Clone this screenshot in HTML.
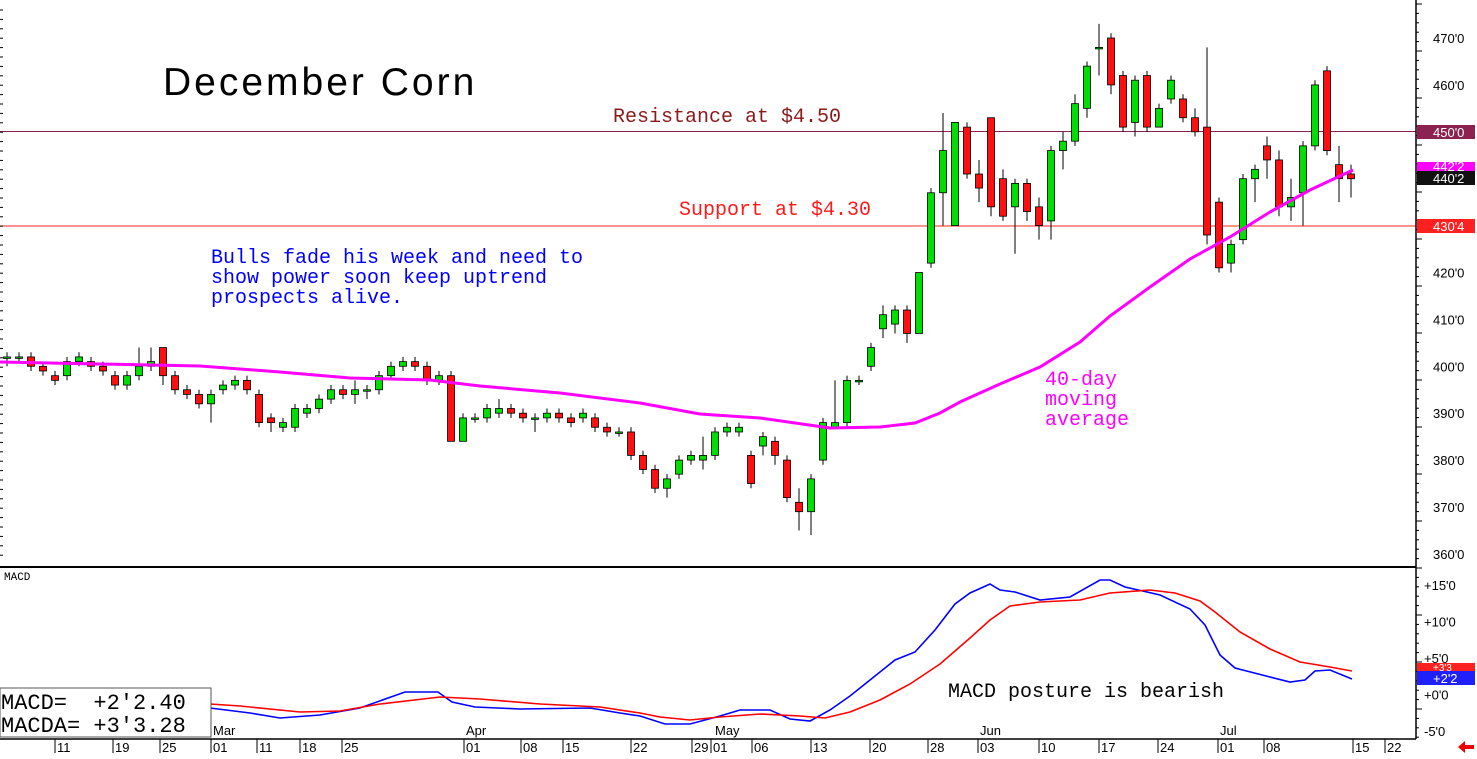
<!DOCTYPE html>
<html><head><meta charset="utf-8">
<style>
html,body{margin:0;padding:0;background:#fff;width:1477px;height:759px;overflow:hidden}
svg{display:block;font-family:"Liberation Mono",monospace}
</style></head><body>
<svg id="s" width="1477" height="759" viewBox="0 0 1477 759" xmlns="http://www.w3.org/2000/svg">
<rect width="1477" height="759" fill="#fff"/>
<line x1="0" y1="131.5" x2="1416" y2="131.5" stroke="#8b2252" stroke-width="1"/>
<line x1="0" y1="226" x2="1416" y2="226" stroke="#ff2020" stroke-width="1"/>
<g id="candles"></g>
<polyline id="ma" fill="none" stroke="#ff00ff" stroke-width="3"/>
<polyline id="mb" fill="none" stroke="#0000ff" stroke-width="1.6"/>
<polyline id="mr" fill="none" stroke="#ff0000" stroke-width="1.6"/>
<line x1="0" y1="567" x2="1416" y2="567" stroke="#000" stroke-width="2"/>
<line x1="1416" y1="0" x2="1416" y2="739" stroke="#000" stroke-width="1.5"/>
<line x1="0" y1="739" x2="1416" y2="739" stroke="#000" stroke-width="1.5"/>
<g id="ticks"></g>
<text x="163" y="95" font-family="Liberation Sans,sans-serif" font-size="39" fill="#000" letter-spacing="3">December Corn</text>
<text x="613" y="122" font-size="20" fill="#8b1a1a">Resistance at $4.50</text>
<text x="679" y="215" font-size="20" fill="#ff1a1a">Support at $4.30</text>
<text font-size="20" fill="#0000ff"><tspan x="211" y="263">Bulls fade his week and need to</tspan><tspan x="211" y="283">show power soon keep uptrend</tspan><tspan x="211" y="303">prospects alive.</tspan></text>
<text font-size="20" fill="#ff00ff"><tspan x="1045" y="385">40-day</tspan><tspan x="1045" y="405">moving</tspan><tspan x="1045" y="425">average</tspan></text>
<text x="948" y="697" font-size="20" fill="#000">MACD posture is bearish</text>
<text x="4" y="580" font-size="11" fill="#000">MACD</text>
<rect x="0" y="688" width="211" height="49" fill="#fff" stroke="#555" stroke-width="1"/>
<text x="1" y="709" font-size="22" fill="#000" xml:space="preserve" style="white-space:pre">MACD=  +2'2.40</text>
<text x="1" y="732" font-size="22" fill="#000" xml:space="preserve" style="white-space:pre">MACDA= +3'3.28</text>
<rect x="1417" y="125" width="58" height="14" fill="#8b2252"/>
<rect x="1417" y="162" width="58" height="10" fill="#ff00ff"/>
<rect x="1417" y="171" width="58" height="14" fill="#111"/>
<rect x="1417" y="219" width="58" height="14" fill="#ff2020"/>
<rect x="1417" y="663" width="58" height="9" fill="#ff2020"/>
<rect x="1417" y="671" width="58" height="14" fill="#2020ff"/>
<g id="labels" font-size="13" font-family="Liberation Sans,sans-serif"></g>
<polygon points="1458,747 1465,741 1465,745 1474,745 1474,749 1465,749 1465,753" fill="#e00"/>
</svg>
<script>
var NS="http://www.w3.org/2000/svg";
function el(p,t,a,txt){var e=document.createElementNS(NS,t);for(var k in a)e.setAttribute(k,a[k]);if(txt!=null)e.textContent=txt;document.getElementById(p).appendChild(e);return e;}
function py(p){return 38+(470-p)*4.69;}
function my(m){return 585+(15-m)*7.3;}
[470,460,420,410,400,390,380,370,360].forEach(function(p){el("labels","text",{x:1433,y:py(p)+5,fill:"#000"},p+"'0");});
el("labels","text",{x:1433,y:137,fill:"#fff"},"450'0");
el("labels","text",{x:1433,y:171,fill:"#fff"},"442'2");
el("labels","text",{x:1433,y:183,fill:"#fff"},"440'2");
el("labels","text",{x:1433,y:231,fill:"#fff"},"430'4");
[["+15'0",15],["+10'0",10],["+5'0",5],["+0'0",0],["-5'0",-5]].forEach(function(a){el("labels","text",{x:1424,y:my(a[1])+5,fill:"#000"},a[0]);});
el("labels","text",{x:1433,y:671,fill:"#fff","font-size":"10"},"+3'3");
el("labels","text",{x:1433,y:683,fill:"#fff"},"+2'2");
for(var y=4;y<739;y+=9.4){var l=((Math.round((y-4)/9.4))%5==0)?6:3;el("ticks","line",{x1:1416,y1:y,x2:1416+l,y2:y,stroke:"#000","stroke-width":1});}
for(var y=10;y<560;y+=9.4){el("ticks","line",{x1:0,y1:y,x2:3,y2:y,stroke:"#000","stroke-width":1});}
var d=[["11",57],["19",115],["25",162],["01",213],["11",259],["18",302],["25",344],["01",466],["08",523],["15",565],["22",633],["29",694],["01",713],["06",754],["13",813],["20",872],["28",930],["03",980],["10",1041],["17",1101],["24",1160],["01",1220],["08",1266],["15",1355],["22",1387]];
d.forEach(function(a){el("ticks","line",{x1:a[1]-2,y1:739,x2:a[1]-2,y2:753,stroke:"#000","stroke-width":1});el("labels","text",{x:a[1],y:752,fill:"#000"},a[0]);});
[["Mar",213],["Apr",466],["May",715],["Jun",980],["Jul",1220]].forEach(function(a){el("labels","text",{x:a[1],y:735,fill:"#000"},a[0]);});
var C=[[7,402,402,403,400],[19,402,402,403,401],[31,402,400,403,399],[43,400,399,401,398],[55,398,397,399,396],[67,398,401,402,397],[79,401,402,403,400],[91,401,400,402,399],[103,400,399,401,398],[115,398,396,399,395],[127,396,398,399,395],[139,398,400,404,397],[151,400,401,404,399],[163,404,398,404,396],[175,398,395,399,394],[187,395,394,396,393],[199,394,392,395,391],[211,392,394,395,388],[223,395,396,397,394],[235,396,397,398,395],[247,397,395,398,394],[259,394,388,395,387],[271,389,388,390,386],[283,387,388,389,386],[295,387,391,392,386],[307,390,391,392,389],[319,391,393,394,390],[331,393,395,396,392],[343,395,394,396,393],[355,394,395,397,392],[367,395,395,396,393],[379,395,398,399,394],[391,398,400,401,397],[403,400,401,402,399],[415,401,400,402,399],[427,400,397,401,396],[439,397,398,399,396],[451,398,384,399,384],[463,384,389,390,384],[475,389,389,390,388],[487,389,391,392,388],[499,390,391,393,389],[511,391,390,392,389],[523,390,389,391,388],[535,389,389,390,386],[547,389,390,391,388],[559,390,389,391,388],[571,389,388,390,387],[583,389,390,391,388],[595,389,387,390,386],[607,387,386,388,385],[619,386,386,387,385],[631,386,381,387,380],[643,381,378,382,377],[655,378,374,379,373],[667,374,376,377,372],[679,377,380,381,376],[691,380,381,382,379],[703,380,381,385,378],[715,381,386,387,380],[727,386,387,388,385],[739,386,387,388,385],[751,381,375,382,374],[763,383,385,386,381],[775,384,381,385,379],[787,380,372,381,371],[799,371,369,374,365],[811,369,376,377,364],[823,380,388,389,379],[835,387,388,397,387],[847,388,397,398,387],[859,397,397,398,396],[871,400,404,405,399],[883,408,411,413,406],[895,409,412,413,407],[907,412,407,413,405],[919,407,420,420,407],[931,422,437,438,421],[943,437,446,454,430],[955,430,452,452,430],[967,451,441,452,440],[979,441,438,444,435],[991,453,434,453,432],[1003,440,432,442,431],[1015,434,439,440,424],[1027,439,433,440,431],[1039,434,430,436,427],[1051,431,446,447,427],[1063,446,448,450,442],[1075,448,456,458,447],[1087,455,464,465,453],[1099,468,468,473,462],[1111,470,460,471,458],[1123,462,451,463,450],[1135,452,461,462,449],[1147,462,451,463,450],[1159,451,455,456,452],[1171,457,461,462,456],[1183,457,453,458,452],[1195,453,450,455,449],[1207,451,428,468,426],[1219,435,421,436,420],[1231,422,426,427,420],[1243,427,440,441,426],[1255,440,442,443,435],[1267,447,444,449,440],[1279,444,434,446,432],[1291,434,436,440,431],[1303,437,447,448,430],[1315,447,460,461,446],[1327,463,446,464,445],[1339,443,440,447,435],[1351,441,440,443,436]];
C.forEach(function(c){var x=c[0],o=c[1],cl=c[2],h=c[3],l=c[4];
  el("candles","line",{x1:x,y1:py(h),x2:x,y2:py(l),stroke:"#000","stroke-width":1});
  var t=py(Math.max(o,cl)),b=py(Math.min(o,cl));if(b-t<1.5){b=t+1.5;}
  el("candles","rect",{x:x-3.5,y:t,width:7,height:b-t,fill:cl>=o?"#00dd00":"#ff1010",stroke:"#000","stroke-width":0.8});
});
function pts(a){return a.map(function(p){return p[0]+","+p[1];}).join(" ");}
document.getElementById("ma").setAttribute("points",pts([[0,362],[100,364],[200,366],[280,372],[350,378],[430,380],[480,386],[560,393],[640,403],[700,414],[760,418],[830,428],[880,427],[915,423],[940,413],[960,402],[1000,384],[1040,367],[1080,342],[1110,316],[1150,287],[1190,259],[1230,237],[1270,212],[1310,190],[1353,170]]));
document.getElementById("mb").setAttribute("points",pts([[0,705],[210,708],[250,713],[280,718],[320,715],[360,708],[405,692],[438,692],[452,702],[475,707],[520,709],[590,708],[620,713],[640,716],[665,724],[690,724],[720,716],[740,710],[770,710],[790,719],[810,721],[830,710],[850,696],[870,680],[895,660],[915,652],[935,630],[955,604],[970,593],[990,584],[1000,590],[1015,592],[1040,600],[1070,597],[1100,580],[1110,580],[1125,587],[1160,595],[1190,609],[1205,625],[1220,655],[1235,668],[1270,677],[1290,682],[1305,680],[1315,671],[1330,670],[1352,679]]));
document.getElementById("mr").setAttribute("points",pts([[0,700],[210,704],[240,706],[300,712],[340,711],[380,704],[440,697],[480,699],[540,704],[600,707],[640,713],[660,717],[690,720],[720,717],[760,714],[800,716],[825,718],[850,712],[880,700],[910,684],[940,664],[970,638],[990,620],[1010,606],[1040,602],[1080,600],[1110,593],[1150,590],[1175,593],[1200,601],[1215,612],[1240,632],[1270,649],[1300,662],[1330,667],[1352,671]]));
</script>
</body></html>
